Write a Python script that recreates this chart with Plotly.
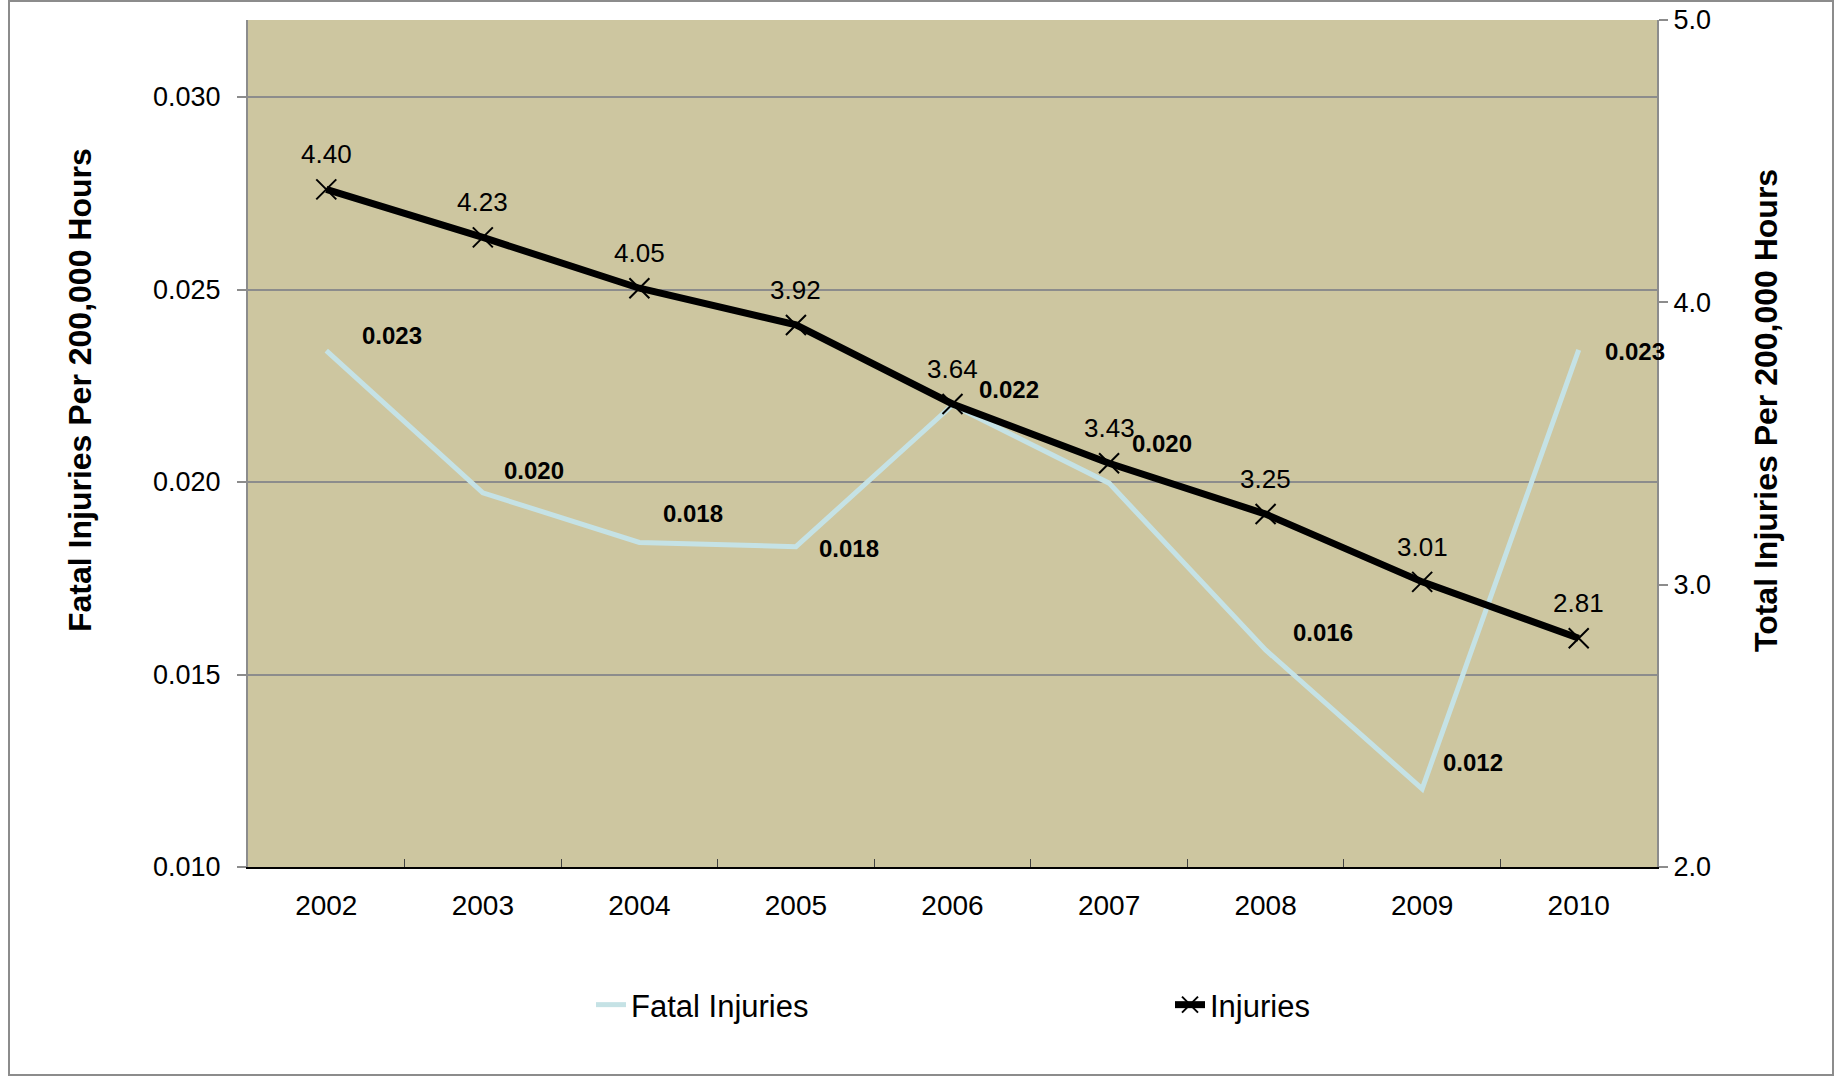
import plotly.graph_objects as go

years = ["2002", "2003", "2004", "2005", "2006", "2007", "2008", "2009", "2010"]
fatal_rate = [0.02341, 0.01972, 0.01843, 0.01832, 0.02200, 0.01997, 0.01564, 0.01203, 0.02343]
injury_rate = [4.40, 4.23, 4.05, 3.92, 3.64, 3.43, 3.25, 3.01, 2.81]

left_ticks = [0.010, 0.015, 0.020, 0.025, 0.030]
right_ticks = [2.0, 3.0, 4.0, 5.0]

left_title = "Fatal Injuries Per 200,000 Hours"
right_title = "Total Injuries Per 200,000 Hours"

# label offsets (pixels) for the fatal-rate data labels
fatal_label_dx = [66, 51, 54, 53, 56, 53, 57, 51, 56]
fatal_label_dy = [15, 22, 29, -2, 16, 40, 17, 26, -2]

W, H = 1839, 1078
ML, MR, MT, MB = 248, 182, 20, 211
FONT = "Liberation Sans, Arial, sans-serif"
GRID = "#8C8C8C"

fig = go.Figure()
fig.add_trace(go.Scatter(
    x=years, y=fatal_rate, name="Fatal Injuries", mode="lines",
    line=dict(color="#C5E2E5", width=5), yaxis="y"))
fig.add_trace(go.Scatter(
    x=years, y=injury_rate, name="Injuries", mode="lines+markers",
    line=dict(color="black", width=7),
    marker=dict(symbol="x-thin", size=20, color="black", line=dict(color="black", width=2)),
    yaxis="y2"))

pw = W - ML - MR
ph = H - MT - MB
def px_x(p):
    return (p - ML) / pw
def px_y(p):
    return (H - MB - p) / ph

annotations = []
for i, v in enumerate(fatal_rate):
    annotations.append(dict(
        x=i, y=v, xref="x", yref="y", text="<b>%.3f</b>" % v, showarrow=False,
        xshift=fatal_label_dx[i], yshift=fatal_label_dy[i],
        font=dict(family=FONT, size=24, color="black")))
for i, v in enumerate(injury_rate):
    annotations.append(dict(
        x=i, y=v, xref="x", yref="y2", text="%.2f" % v, showarrow=False,
        yshift=35, font=dict(family=FONT, size=26, color="black")))
annotations.append(dict(
    x=px_x(80), y=px_y(390), xref="paper", yref="paper", text="<b>%s</b>" % left_title,
    textangle=-90, showarrow=False, xanchor="center", yanchor="middle",
    font=dict(family=FONT, size=32, color="black")))
annotations.append(dict(
    x=px_x(1766), y=px_y(411), xref="paper", yref="paper", text="<b>%s</b>" % right_title,
    textangle=-90, showarrow=False, xanchor="center", yanchor="middle",
    font=dict(family=FONT, size=32, color="black")))

fig.update_layout(
    width=W, height=H,
    margin=dict(l=ML, r=MR, t=MT, b=MB, autoexpand=False),
    paper_bgcolor="white",
    plot_bgcolor="#CDC6A0",
    font=dict(family=FONT, color="black", size=27),
    showlegend=True,
    legend=dict(orientation="h", x=px_x(591), xanchor="left", y=px_y(1005), yanchor="middle",
                font=dict(family=FONT, size=31), entrywidth=534, entrywidthmode="pixels",
                bgcolor="rgba(0,0,0,0)", traceorder="normal"),
    xaxis=dict(type="category", range=[-0.5, 8.5], showgrid=False, automargin=False,
               showline=True, linecolor="black", linewidth=2,
               ticks="inside", tickson="boundaries", ticklen=8, tickcolor="#404040", tickwidth=1,
               tickfont=dict(size=28), ticklabelstandoff=12, zeroline=False),
    yaxis=dict(range=[0.010, 0.032], tickvals=left_ticks, tickformat=".3f", automargin=False,
               showgrid=True, gridcolor=GRID, gridwidth=2,
               showline=True, linecolor=GRID, linewidth=2,
               ticks="outside", ticklen=9, tickcolor=GRID, tickwidth=2,
               tickfont=dict(size=27), ticklabelstandoff=11, zeroline=False),
    yaxis2=dict(range=[2.0, 5.0], tickvals=right_ticks, tickformat=".1f", automargin=False,
                overlaying="y", side="right", showgrid=False,
                showline=True, linecolor=GRID, linewidth=2,
                ticks="outside", ticklen=9, tickcolor=GRID, tickwidth=2,
                tickfont=dict(size=27), zeroline=False),
    annotations=annotations,
    shapes=[dict(type="rect", xref="paper", yref="paper",
                 x0=px_x(9), x1=px_x(1833), y0=px_y(1075), y1=px_y(1),
                 line=dict(color=GRID, width=2), fillcolor="rgba(0,0,0,0)", layer="below")],
)

fig.write_html("out.html", config={"displayModeBar": False},
               post_script="document.body.style.margin='0';document.body.style.overflow='hidden';")
